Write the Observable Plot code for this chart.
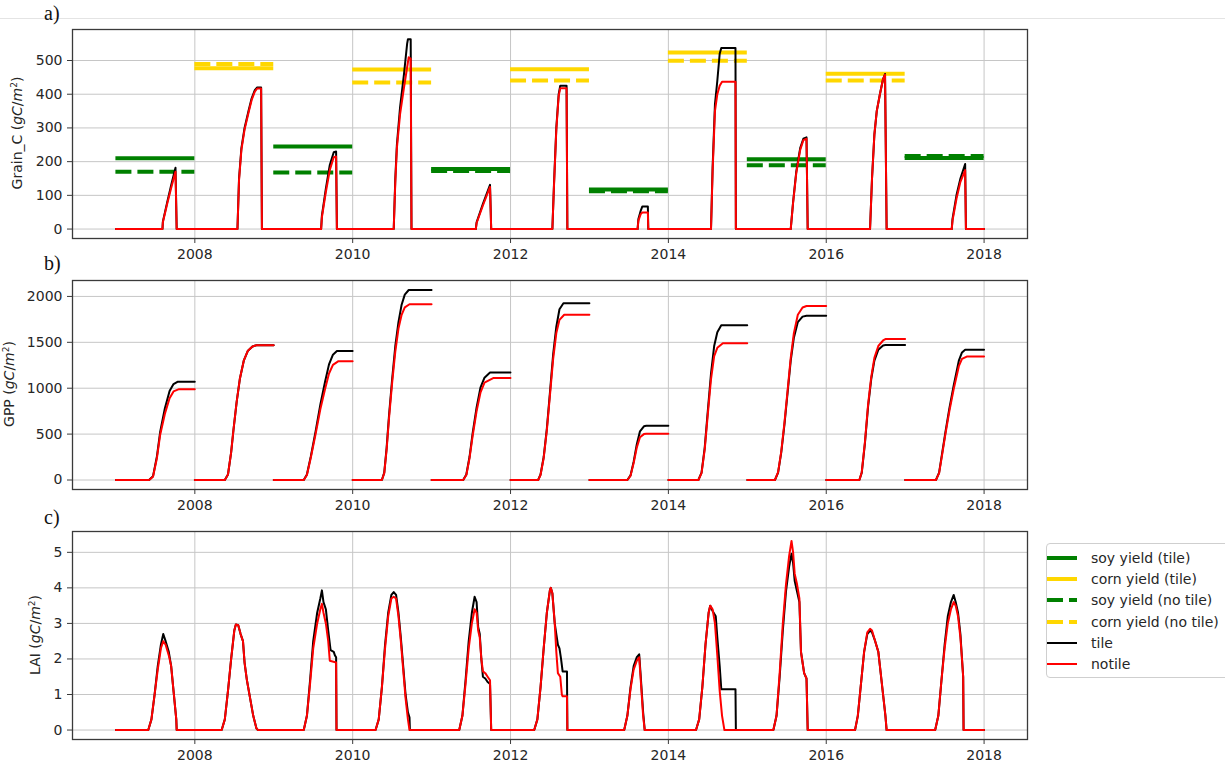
<!DOCTYPE html>
<html><head><meta charset="utf-8">
<script src="https://cdn.jsdelivr.net/npm/d3@7"></script>
<script src="https://cdn.jsdelivr.net/npm/@observablehq/plot@0.6"></script>
<style>
body{margin:0;background:#fff;}
#root{position:relative;width:1225px;height:770px;overflow:hidden;font-family:"DejaVu Sans",sans-serif;color:#262626;background:#fff;}
#root svg{position:absolute;left:0;}
.ylab{position:absolute;transform:translate(-50%,-50%) rotate(-90deg);white-space:nowrap;font-size:14px;color:#262626;}
.ylab sup{font-size:9px;vertical-align:5px;line-height:0;}
.plab{position:absolute;left:44px;font-family:"Liberation Serif",serif;font-size:20px;line-height:20px;color:#111;}
.sep{position:absolute;left:0;top:18px;width:1225px;height:1px;background:#e4e4e4;}
#legend{position:absolute;left:1046px;top:543px;width:200px;height:133px;border:1px solid #cfcfcf;border-radius:4px;background:#fff;font-size:14px;color:#262626;}
.lrow{position:absolute;left:0;height:20px;}
.lrow svg{position:absolute;left:4px;top:0;}
.lrow span{position:absolute;left:44px;top:1px;white-space:nowrap;line-height:18px;}
</style></head>
<body><div id="root"><div class="sep"></div></div>
<script>
// ---------- data ----------
const xTicks = [2008, 2010, 2012, 2014, 2016, 2018];
const grainTicks = [0, 100, 200, 300, 400, 500];
const gppTicks = [0, 500, 1000, 1500, 2000];
const laiTicks = [0, 1, 2, 3, 4, 5];

const yieldYears = [2007, 2008, 2009, 2010, 2011, 2012, 2013, 2014, 2015, 2016, 2017];
const yieldCrop = ["soy", "corn", "soy", "corn", "soy", "corn", "soy", "corn", "soy", "corn", "soy"];
const yieldTile = [210, 477, 245, 473, 178, 474, 117, 524, 207, 461, 211];
const yieldNoTile = [170, 490, 168, 435, 172, 441, 112, 499, 189, 441, 217];

// Grain_C, [time, value]
const grainTile = [
  [2007.0,0],[2007.59,0],[2007.595,22],[2007.65,80],[2007.70,130],[2007.755,182],[2007.77,0],
  [2008.54,0],[2008.56,150],[2008.59,240],[2008.63,300],[2008.68,350],[2008.72,388],[2008.76,412],[2008.79,420],[2008.84,420],[2008.85,0],
  [2009.60,0],[2009.61,40],[2009.66,120],[2009.71,190],[2009.76,228],[2009.79,230],[2009.80,0],
  [2010.52,0],[2010.54,150],[2010.56,250],[2010.60,360],[2010.65,460],[2010.69,550],[2010.70,563],[2010.735,563],[2010.745,0],
  [2011.56,0],[2011.57,20],[2011.65,75],[2011.74,131],[2011.755,0],
  [2012.53,0],[2012.55,130],[2012.58,300],[2012.61,400],[2012.63,425],[2012.71,425],[2012.72,0],
  [2013.61,0],[2013.62,30],[2013.65,55],[2013.67,67],[2013.74,67],[2013.745,0],
  [2014.54,0],[2014.56,180],[2014.59,370],[2014.62,440],[2014.65,520],[2014.67,537],[2014.85,537],[2014.855,0],
  [2015.55,0],[2015.58,80],[2015.62,170],[2015.67,240],[2015.71,268],[2015.75,272],[2015.765,0],
  [2016.555,0],[2016.58,150],[2016.61,280],[2016.64,350],[2016.68,400],[2016.72,445],[2016.745,460],[2016.765,0],
  [2017.59,0],[2017.60,30],[2017.65,100],[2017.70,150],[2017.76,193],[2017.77,0],[2018.0,0]
];
const grainNoTile = [
  [2007.0,0],[2007.59,0],[2007.595,20],[2007.65,75],[2007.70,122],[2007.755,170],[2007.77,0],
  [2008.54,0],[2008.56,145],[2008.59,235],[2008.63,295],[2008.68,345],[2008.72,383],[2008.76,408],[2008.79,417],[2008.84,417],[2008.85,0],
  [2009.60,0],[2009.61,35],[2009.66,110],[2009.71,175],[2009.76,213],[2009.79,215],[2009.80,0],
  [2010.52,0],[2010.54,140],[2010.56,240],[2010.60,340],[2010.65,420],[2010.69,480],[2010.71,510],[2010.735,505],[2010.745,0],
  [2011.56,0],[2011.57,18],[2011.65,70],[2011.74,125],[2011.755,0],
  [2012.53,0],[2012.55,125],[2012.58,295],[2012.61,395],[2012.63,418],[2012.71,418],[2012.72,0],
  [2013.61,0],[2013.62,25],[2013.65,45],[2013.67,49],[2013.74,49],[2013.745,0],
  [2014.54,0],[2014.56,170],[2014.59,350],[2014.62,400],[2014.65,425],[2014.68,437],[2014.85,437],[2014.855,0],
  [2015.55,0],[2015.58,78],[2015.62,165],[2015.67,235],[2015.71,264],[2015.75,268],[2015.765,0],
  [2016.555,0],[2016.58,150],[2016.61,280],[2016.64,350],[2016.68,400],[2016.72,445],[2016.745,458],[2016.765,0],
  [2017.59,0],[2017.60,25],[2017.65,90],[2017.70,140],[2017.76,175],[2017.77,0],[2018.0,0]
];

// GPP, [season, time, value]
const gppTile = [
  [2007,2007.0,0],[2007,2007.42,0],[2007,2007.47,40],[2007,2007.52,260],[2007,2007.56,520],[2007,2007.62,780],[2007,2007.68,970],[2007,2007.73,1045],[2007,2007.78,1070],[2007,2007.999,1070],
  [2008,2008.0,0],[2008,2008.38,0],[2008,2008.42,60],[2008,2008.46,300],[2008,2008.49,550],[2008,2008.53,850],[2008,2008.57,1100],[2008,2008.62,1300],[2008,2008.67,1405],[2008,2008.73,1455],[2008,2008.78,1468],[2008,2008.999,1468],
  [2009,2009.0,0],[2009,2009.38,0],[2009,2009.42,60],[2009,2009.47,260],[2009,2009.53,530],[2009,2009.59,820],[2009,2009.65,1070],[2009,2009.70,1260],[2009,2009.75,1365],[2009,2009.80,1405],[2009,2009.999,1405],
  [2010,2010.0,0],[2010,2010.37,0],[2010,2010.40,80],[2010,2010.43,350],[2010,2010.46,700],[2010,2010.50,1100],[2010,2010.54,1460],[2010,2010.58,1720],[2010,2010.62,1910],[2010,2010.66,2020],[2010,2010.71,2070],[2010,2010.999,2070],
  [2011,2011.0,0],[2011,2011.40,0],[2011,2011.44,60],[2011,2011.48,250],[2011,2011.52,510],[2011,2011.57,790],[2011,2011.62,1010],[2011,2011.67,1115],[2011,2011.74,1170],[2011,2011.999,1170],
  [2012,2012.0,0],[2012,2012.35,0],[2012,2012.38,60],[2012,2012.42,250],[2012,2012.46,560],[2012,2012.50,960],[2012,2012.54,1370],[2012,2012.58,1670],[2012,2012.62,1860],[2012,2012.67,1925],[2012,2012.999,1925],
  [2013,2013.0,0],[2013,2013.48,0],[2013,2013.52,50],[2013,2013.56,200],[2013,2013.60,390],[2013,2013.64,530],[2013,2013.69,585],[2013,2013.72,590],[2013,2013.999,590],
  [2014,2014.0,0],[2014,2014.38,0],[2014,2014.42,80],[2014,2014.46,350],[2014,2014.50,760],[2014,2014.54,1160],[2014,2014.58,1460],[2014,2014.62,1610],[2014,2014.67,1685],[2014,2014.999,1685],
  [2015,2015.0,0],[2015,2015.35,0],[2015,2015.39,80],[2015,2015.43,300],[2015,2015.47,600],[2015,2015.51,950],[2015,2015.55,1300],[2015,2015.59,1550],[2015,2015.64,1720],[2015,2015.70,1780],[2015,2015.75,1790],[2015,2015.999,1790],
  [2016,2016.0,0],[2016,2016.42,0],[2016,2016.45,80],[2016,2016.49,400],[2016,2016.53,800],[2016,2016.57,1100],[2016,2016.61,1300],[2016,2016.66,1420],[2016,2016.72,1465],[2016,2016.75,1470],[2016,2016.999,1470],
  [2017,2017.0,0],[2017,2017.39,0],[2017,2017.43,80],[2017,2017.47,300],[2017,2017.51,520],[2017,2017.56,780],[2017,2017.615,1030],[2017,2017.68,1300],[2017,2017.72,1390],[2017,2017.76,1420],[2017,2017.999,1420]
];
const gppNoTile = [
  [2007,2007.0,0],[2007,2007.42,0],[2007,2007.47,35],[2007,2007.52,240],[2007,2007.56,490],[2007,2007.62,720],[2007,2007.68,890],[2007,2007.73,965],[2007,2007.80,990],[2007,2007.999,990],
  [2008,2008.0,0],[2008,2008.38,0],[2008,2008.42,60],[2008,2008.46,300],[2008,2008.49,550],[2008,2008.53,850],[2008,2008.57,1100],[2008,2008.62,1300],[2008,2008.67,1405],[2008,2008.73,1455],[2008,2008.78,1468],[2008,2008.999,1468],
  [2009,2009.0,0],[2009,2009.38,0],[2009,2009.42,55],[2009,2009.47,245],[2009,2009.53,500],[2009,2009.59,770],[2009,2009.65,990],[2009,2009.70,1160],[2009,2009.75,1255],[2009,2009.82,1295],[2009,2009.999,1295],
  [2010,2010.0,0],[2010,2010.37,0],[2010,2010.40,75],[2010,2010.43,330],[2010,2010.46,670],[2010,2010.50,1060],[2010,2010.54,1400],[2010,2010.58,1650],[2010,2010.62,1800],[2010,2010.66,1880],[2010,2010.72,1915],[2010,2010.999,1915],
  [2011,2011.0,0],[2011,2011.40,0],[2011,2011.44,55],[2011,2011.48,235],[2011,2011.52,480],[2011,2011.57,750],[2011,2011.62,955],[2011,2011.67,1060],[2011,2011.78,1110],[2011,2011.999,1110],
  [2012,2012.0,0],[2012,2012.35,0],[2012,2012.38,55],[2012,2012.42,240],[2012,2012.46,540],[2012,2012.50,930],[2012,2012.54,1320],[2012,2012.58,1600],[2012,2012.62,1745],[2012,2012.68,1800],[2012,2012.999,1800],
  [2013,2013.0,0],[2013,2013.48,0],[2013,2013.52,45],[2013,2013.56,185],[2013,2013.60,355],[2013,2013.64,465],[2013,2013.69,500],[2013,2013.72,505],[2013,2013.999,505],
  [2014,2014.0,0],[2014,2014.38,0],[2014,2014.42,75],[2014,2014.46,330],[2014,2014.50,720],[2014,2014.54,1100],[2014,2014.58,1350],[2014,2014.62,1440],[2014,2014.69,1490],[2014,2014.999,1490],
  [2015,2015.0,0],[2015,2015.35,0],[2015,2015.39,85],[2015,2015.43,310],[2015,2015.47,620],[2015,2015.51,970],[2015,2015.55,1330],[2015,2015.59,1600],[2015,2015.64,1800],[2015,2015.70,1880],[2015,2015.75,1895],[2015,2015.999,1895],
  [2016,2016.0,0],[2016,2016.42,0],[2016,2016.45,85],[2016,2016.49,410],[2016,2016.53,820],[2016,2016.57,1120],[2016,2016.61,1330],[2016,2016.66,1460],[2016,2016.72,1520],[2016,2016.75,1535],[2016,2016.999,1535],
  [2017,2017.0,0],[2017,2017.39,0],[2017,2017.43,75],[2017,2017.47,285],[2017,2017.51,500],[2017,2017.56,750],[2017,2017.615,990],[2017,2017.68,1240],[2017,2017.72,1320],[2017,2017.78,1345],[2017,2017.999,1345]
];

// LAI, [time, value]
const laiTile = [
  [2007.0,0],[2007.41,0],[2007.45,0.3],[2007.49,1.0],[2007.53,1.8],[2007.57,2.4],[2007.60,2.7],[2007.63,2.5],[2007.67,2.2],[2007.70,1.8],[2007.73,1.1],[2007.765,0.3],[2007.77,0],
  [2008.34,0],[2008.38,0.3],[2008.42,1.1],[2008.46,2.0],[2008.50,2.8],[2008.52,2.97],[2008.55,2.95],[2008.58,2.7],[2008.61,2.5],[2008.63,1.9],[2008.66,1.4],[2008.70,0.9],[2008.74,0.4],[2008.78,0.05],[2008.80,0],
  [2009.38,0],[2009.42,0.4],[2009.46,1.4],[2009.50,2.5],[2009.55,3.3],[2009.59,3.7],[2009.61,3.93],[2009.63,3.6],[2009.66,3.4],[2009.69,2.8],[2009.72,2.25],[2009.76,2.2],[2009.775,2.1],[2009.79,2.05],[2009.795,0],
  [2010.29,0],[2010.33,0.3],[2010.37,1.2],[2010.41,2.4],[2010.45,3.3],[2010.49,3.8],[2010.52,3.88],[2010.55,3.8],[2010.58,3.3],[2010.61,2.6],[2010.64,1.8],[2010.67,1.0],[2010.70,0.5],[2010.72,0.35],[2010.725,0],
  [2011.35,0],[2011.39,0.4],[2011.43,1.4],[2011.47,2.5],[2011.51,3.3],[2011.545,3.75],[2011.57,3.6],[2011.59,2.9],[2011.61,2.7],[2011.63,2.0],[2011.65,1.5],[2011.68,1.45],[2011.71,1.35],[2011.74,1.3],[2011.755,0],
  [2012.30,0],[2012.34,0.3],[2012.38,1.2],[2012.42,2.3],[2012.46,3.3],[2012.50,3.95],[2012.51,4.0],[2012.53,3.85],[2012.56,3.0],[2012.58,2.7],[2012.60,2.4],[2012.62,2.3],[2012.64,2.0],[2012.66,1.65],[2012.715,1.65],[2012.72,0],
  [2013.44,0],[2013.48,0.4],[2013.52,1.2],[2013.56,1.8],[2013.60,2.05],[2013.63,2.13],[2013.65,1.5],[2013.68,0.5],[2013.70,0],
  [2014.35,0],[2014.39,0.3],[2014.43,1.2],[2014.47,2.4],[2014.51,3.3],[2014.53,3.5],[2014.56,3.35],[2014.60,3.2],[2014.62,2.6],[2014.65,1.8],[2014.67,1.15],[2014.85,1.15],[2014.855,0],
  [2015.33,0],[2015.37,0.4],[2015.41,1.5],[2015.45,2.8],[2015.49,3.9],[2015.53,4.6],[2015.56,4.96],[2015.58,4.7],[2015.60,4.2],[2015.63,3.9],[2015.66,3.6],[2015.68,2.2],[2015.70,1.9],[2015.72,1.6],[2015.75,1.45],[2015.765,0],
  [2016.365,0],[2016.40,0.4],[2016.44,1.3],[2016.48,2.2],[2016.52,2.7],[2016.555,2.8],[2016.58,2.75],[2016.62,2.5],[2016.66,2.2],[2016.69,1.6],[2016.72,1.0],[2016.75,0.4],[2016.765,0],
  [2017.38,0],[2017.42,0.4],[2017.46,1.4],[2017.50,2.4],[2017.54,3.2],[2017.58,3.6],[2017.615,3.8],[2017.64,3.6],[2017.67,3.3],[2017.70,2.7],[2017.72,2.0],[2017.735,1.5],[2017.74,0],[2018.0,0]
];
const laiNoTile = [
  [2007.0,0],[2007.41,0],[2007.45,0.3],[2007.49,1.0],[2007.53,1.7],[2007.57,2.3],[2007.60,2.5],[2007.63,2.4],[2007.67,2.1],[2007.70,1.8],[2007.73,1.1],[2007.765,0.3],[2007.77,0],
  [2008.34,0],[2008.38,0.3],[2008.42,1.1],[2008.46,2.0],[2008.50,2.8],[2008.52,2.97],[2008.55,2.95],[2008.58,2.7],[2008.61,2.5],[2008.63,1.9],[2008.66,1.4],[2008.70,0.9],[2008.74,0.4],[2008.78,0.05],[2008.80,0],
  [2009.38,0],[2009.42,0.4],[2009.46,1.3],[2009.50,2.3],[2009.55,3.0],[2009.59,3.4],[2009.61,3.55],[2009.63,3.3],[2009.66,3.0],[2009.69,2.5],[2009.71,1.95],[2009.79,1.9],[2009.795,0],
  [2010.29,0],[2010.33,0.3],[2010.37,1.2],[2010.41,2.3],[2010.45,3.2],[2010.49,3.7],[2010.52,3.75],[2010.55,3.7],[2010.58,3.2],[2010.61,2.5],[2010.64,1.7],[2010.67,0.9],[2010.70,0.3],[2010.72,0],
  [2011.35,0],[2011.39,0.4],[2011.43,1.3],[2011.47,2.3],[2011.51,3.0],[2011.545,3.4],[2011.57,3.3],[2011.59,2.8],[2011.61,2.6],[2011.63,2.0],[2011.65,1.65],[2011.68,1.6],[2011.71,1.5],[2011.74,1.4],[2011.755,0],
  [2012.30,0],[2012.34,0.3],[2012.38,1.2],[2012.42,2.3],[2012.46,3.3],[2012.50,3.95],[2012.51,4.0],[2012.53,3.85],[2012.56,3.0],[2012.58,2.2],[2012.60,1.6],[2012.63,1.5],[2012.65,1.0],[2012.66,0.95],[2012.715,0.95],[2012.72,0],
  [2013.44,0],[2013.48,0.4],[2013.52,1.15],[2013.56,1.7],[2013.60,1.95],[2013.63,2.05],[2013.65,1.4],[2013.68,0.4],[2013.70,0],
  [2014.35,0],[2014.39,0.3],[2014.43,1.2],[2014.47,2.4],[2014.51,3.3],[2014.53,3.5],[2014.56,3.4],[2014.59,3.0],[2014.62,2.1],[2014.65,1.1],[2014.68,0.4],[2014.71,0],
  [2015.33,0],[2015.37,0.4],[2015.41,1.6],[2015.45,3.0],[2015.49,4.1],[2015.53,4.9],[2015.56,5.32],[2015.58,5.0],[2015.60,4.4],[2015.63,4.1],[2015.66,3.7],[2015.68,2.2],[2015.70,1.9],[2015.72,1.6],[2015.75,1.45],[2015.765,0],
  [2016.365,0],[2016.40,0.4],[2016.44,1.3],[2016.48,2.2],[2016.52,2.75],[2016.555,2.85],[2016.58,2.8],[2016.62,2.5],[2016.66,2.2],[2016.69,1.6],[2016.72,1.0],[2016.75,0.4],[2016.765,0],
  [2017.38,0],[2017.42,0.4],[2017.46,1.4],[2017.50,2.3],[2017.54,3.0],[2017.58,3.4],[2017.615,3.6],[2017.64,3.5],[2017.67,3.2],[2017.70,2.6],[2017.72,2.0],[2017.735,1.5],[2017.74,0],[2018.0,0]
];

// ---------- drawing ----------
const root = document.getElementById("root");
const GREEN = "#008000", GOLD = "#ffd700";

const yieldRows = yieldYears.map((year, i) => ({year, crop: yieldCrop[i], tile: yieldTile[i], notile: yieldNoTile[i]}));

function panel(top, height, mt, mb, yDomain, yTicks, marks) {
  const svg = Plot.plot({
    width: 1225, height,
    marginLeft: 72, marginRight: 198, marginTop: mt, marginBottom: mb,
    style: {fontSize: "14px", fontFamily: "DejaVu Sans", color: "#262626", background: "transparent", overflow: "visible"},
    x: {domain: [2006.45, 2018.55]},
    y: {domain: yDomain},
    marks: [
      Plot.gridX(xTicks, {stroke: "#c6c6c6", strokeOpacity: 1, strokeWidth: 1}),
      Plot.gridY(yTicks, {stroke: "#c6c6c6", strokeOpacity: 1, strokeWidth: 1}),
      ...marks,
      Plot.frame({stroke: "#3a3a3a", strokeWidth: 1.3}),
      Plot.axisX(xTicks, {tickFormat: "d", tickSize: 5, tickPadding: 6, label: null, stroke: "#3a3a3a"}),
      Plot.axisY(yTicks, {tickFormat: "d", tickSize: 5, tickPadding: 5, label: null, stroke: "#3a3a3a"})
    ]
  });
  svg.style.top = top + "px";
  root.appendChild(svg);
}

const lineOpts = (data, color, z) => Plot.line(data, {x: d => z ? d[1] : d[0], y: d => z ? d[2] : d[1], z: z ? (d => d[0]) : undefined, stroke: color, strokeWidth: 2, curve: "linear"});

// Panel a
panel(0, 262, 29, 24, [-28, 592], grainTicks, [
  Plot.ruleY(yieldRows.filter(d => d.crop === "soy"), {y: "tile", x1: "year", x2: d => d.year + 1, stroke: GREEN, strokeWidth: 4}),
  Plot.ruleY(yieldRows.filter(d => d.crop === "corn"), {y: "tile", x1: "year", x2: d => d.year + 1, stroke: GOLD, strokeWidth: 4}),
  Plot.ruleY(yieldRows.filter(d => d.crop === "soy"), {y: "notile", x1: "year", x2: d => d.year + 1, stroke: GREEN, strokeWidth: 4, strokeDasharray: "16,6"}),
  Plot.ruleY(yieldRows.filter(d => d.crop === "corn"), {y: "notile", x1: "year", x2: d => d.year + 1, stroke: GOLD, strokeWidth: 4, strokeDasharray: "16,6"}),
  lineOpts(grainTile, "#000", false),
  lineOpts(grainNoTile, "#ff0000", false)
]);

// Panel b
panel(262, 250, 18, 23, [-103.5, 2173.5], gppTicks, [
  lineOpts(gppTile, "#000", true),
  lineOpts(gppNoTile, "#ff0000", true)
]);

// Panel c
panel(512, 258, 19, 31, [-0.266, 5.586], laiTicks, [
  lineOpts(laiTile, "#000", false),
  lineOpts(laiNoTile, "#ff0000", false)
]);

// labels
function addDiv(cls, html, style) {
  const d = document.createElement("div");
  d.className = cls; d.innerHTML = html;
  Object.assign(d.style, style);
  root.appendChild(d);
  return d;
}
const unit = ' (<i>gC</i>/<i>m</i><sup>2</sup>)';
addDiv("ylab", "Grain_C" + unit, {left: "17px", top: "133px"});
addDiv("ylab", "GPP" + unit, {left: "9px", top: "384px"});
addDiv("ylab", "LAI" + unit, {left: "35px", top: "635px"});
addDiv("plab", "a)", {top: "3px"});
addDiv("plab", "b)", {top: "253px"});
addDiv("plab", "c)", {top: "507px"});

// legend
const legendItems = [
  {label: "soy yield (tile)", color: GREEN, w: 4, dash: null},
  {label: "corn yield (tile)", color: GOLD, w: 4, dash: null},
  {label: "soy yield (no tile)", color: GREEN, w: 4, dash: "16,6"},
  {label: "corn yield (no tile)", color: GOLD, w: 4, dash: "16,6"},
  {label: "tile", color: "#000", w: 2, dash: null},
  {label: "notile", color: "#ff0000", w: 2, dash: null}
];
const legend = document.createElement("div");
legend.id = "legend";
legendItems.forEach((it, i) => {
  const row = document.createElement("div");
  row.className = "lrow";
  row.style.top = (13.7 + 21.3 * i - 10) + "px";
  row.style.width = "200px";
  row.innerHTML = `<svg width="32" height="20"><line x1="0" x2="30" y1="10" y2="10" stroke="${it.color}" stroke-width="${it.w}" ${it.dash ? `stroke-dasharray="${it.dash}"` : ""}/></svg><span>${it.label}</span>`;
  legend.appendChild(row);
});
root.appendChild(legend);
</script>
</body></html>
